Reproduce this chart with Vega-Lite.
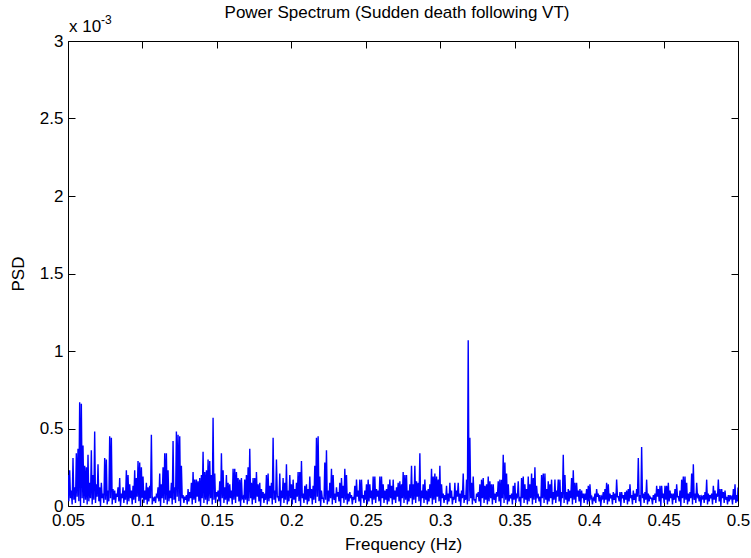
{
"$schema": "https://vega.github.io/schema/vega-lite/v6.json",
"description": "Power spectrum; psd values are in units of 1e-3 (axis multiplier x 10^-3).",
"autosize": "none",
"width": 670,
"height": 465,
"padding": {"left": 68, "top": 41, "right": 13, "bottom": 52},
"background": "white",
"title": {"text": "Power Spectrum (Sudden death following VT)", "font": "Liberation Sans", "fontSize": 17, "fontWeight": "normal", "color": "black", "anchor": "middle", "frame": "group", "offset": -8, "dx": -6},
"config": {
  "view": {"stroke": "black", "strokeWidth": 1},
  "axis": {"labelFont": "Liberation Sans", "titleFont": "Liberation Sans", "labelFontSize": 17, "titleFontSize": 17, "titleFontWeight": "normal", "labelColor": "black", "titleColor": "black", "tickColor": "black", "tickSize": -7, "tickWidth": 1, "domain": false, "grid": false}
},
"data": {"values": [
{"hz":0.05,"psd":0.20},{"hz":0.05056,"psd":0.03},{"hz":0.05112,"psd":0.23},{"hz":0.05168,"psd":0.05},{"hz":0.05224,"psd":0.10},{"hz":0.0528,"psd":0.01},{"hz":0.05336,"psd":0.31},{"hz":0.05392,"psd":0.04},{"hz":0.05448,"psd":0.12},{"hz":0.05504,"psd":0.02},{"hz":0.0556,"psd":0.34},{"hz":0.05616,"psd":0.06},{"hz":0.05672,"psd":0.37},{"hz":0.05728,"psd":0.03},{"hz":0.05784,"psd":0.67},{"hz":0.0584,"psd":0.0},{"hz":0.05896,"psd":0.66},{"hz":0.05952,"psd":0.05},{"hz":0.06008,"psd":0.39},{"hz":0.06064,"psd":0.02},
{"hz":0.0612,"psd":0.26},{"hz":0.06176,"psd":0.04},{"hz":0.06232,"psd":0.25},{"hz":0.06288,"psd":0.01},{"hz":0.06344,"psd":0.33},{"hz":0.064,"psd":0.03},{"hz":0.06456,"psd":0.15},{"hz":0.06512,"psd":0.05},{"hz":0.06568,"psd":0.36},{"hz":0.06624,"psd":0.01},{"hz":0.0668,"psd":0.20},{"hz":0.06736,"psd":0.04},{"hz":0.06792,"psd":0.48},{"hz":0.06848,"psd":0.02},{"hz":0.06904,"psd":0.14},{"hz":0.0696,"psd":0.06},{"hz":0.07016,"psd":0.27},{"hz":0.07072,"psd":0.03},{"hz":0.07128,"psd":0.12},{"hz":0.07184,"psd":0.0},
{"hz":0.0724,"psd":0.15},{"hz":0.07296,"psd":0.05},{"hz":0.07352,"psd":0.08},{"hz":0.07408,"psd":0.02},{"hz":0.07464,"psd":0.31},{"hz":0.0752,"psd":0.04},{"hz":0.07576,"psd":0.30},{"hz":0.07632,"psd":0.01},{"hz":0.07688,"psd":0.10},{"hz":0.07744,"psd":0.03},{"hz":0.078,"psd":0.45},{"hz":0.07856,"psd":0.05},{"hz":0.07912,"psd":0.44},{"hz":0.07968,"psd":0.01},{"hz":0.08024,"psd":0.11},{"hz":0.0808,"psd":0.04},{"hz":0.08136,"psd":0.10},{"hz":0.08192,"psd":0.02},{"hz":0.08248,"psd":0.08},{"hz":0.08304,"psd":0.06},
{"hz":0.0836,"psd":0.12},{"hz":0.08416,"psd":0.03},{"hz":0.08472,"psd":0.18},{"hz":0.08528,"psd":0.0},{"hz":0.08584,"psd":0.08},{"hz":0.0864,"psd":0.05},{"hz":0.08696,"psd":0.12},{"hz":0.08752,"psd":0.02},{"hz":0.08808,"psd":0.10},{"hz":0.08864,"psd":0.04},{"hz":0.0892,"psd":0.23},{"hz":0.08976,"psd":0.01},{"hz":0.09032,"psd":0.20},{"hz":0.09088,"psd":0.03},{"hz":0.09144,"psd":0.14},{"hz":0.092,"psd":0.05},{"hz":0.09256,"psd":0.10},{"hz":0.09312,"psd":0.01},{"hz":0.09368,"psd":0.13},{"hz":0.09424,"psd":0.04},
{"hz":0.0948,"psd":0.23},{"hz":0.09536,"psd":0.02},{"hz":0.09592,"psd":0.18},{"hz":0.09648,"psd":0.06},{"hz":0.09704,"psd":0.29},{"hz":0.0976,"psd":0.03},{"hz":0.09816,"psd":0.28},{"hz":0.09872,"psd":0.0},{"hz":0.09928,"psd":0.25},{"hz":0.09984,"psd":0.05},{"hz":0.1004,"psd":0.19},{"hz":0.10096,"psd":0.02},{"hz":0.10152,"psd":0.10},{"hz":0.10208,"psd":0.04},{"hz":0.10264,"psd":0.15},{"hz":0.1032,"psd":0.01},{"hz":0.10376,"psd":0.12},{"hz":0.10432,"psd":0.03},{"hz":0.10488,"psd":0.13},{"hz":0.10544,"psd":0.05},
{"hz":0.106,"psd":0.46},{"hz":0.10656,"psd":0.01},{"hz":0.10712,"psd":0.05},{"hz":0.10768,"psd":0.04},{"hz":0.10824,"psd":0.06},{"hz":0.1088,"psd":0.02},{"hz":0.10936,"psd":0.07},{"hz":0.10992,"psd":0.06},{"hz":0.11048,"psd":0.12},{"hz":0.11104,"psd":0.03},{"hz":0.1116,"psd":0.21},{"hz":0.11216,"psd":0.0},{"hz":0.11272,"psd":0.14},{"hz":0.11328,"psd":0.05},{"hz":0.11384,"psd":0.25},{"hz":0.1144,"psd":0.02},{"hz":0.11496,"psd":0.34},{"hz":0.11552,"psd":0.04},{"hz":0.11608,"psd":0.34},{"hz":0.11664,"psd":0.01},
{"hz":0.1172,"psd":0.23},{"hz":0.11776,"psd":0.03},{"hz":0.11832,"psd":0.10},{"hz":0.11888,"psd":0.05},{"hz":0.11944,"psd":0.15},{"hz":0.12,"psd":0.01},{"hz":0.12056,"psd":0.42},{"hz":0.12112,"psd":0.04},{"hz":0.12168,"psd":0.12},{"hz":0.12224,"psd":0.02},{"hz":0.1228,"psd":0.48},{"hz":0.12336,"psd":0.06},{"hz":0.12392,"psd":0.46},{"hz":0.12448,"psd":0.03},{"hz":0.12504,"psd":0.45},{"hz":0.1256,"psd":0.0},{"hz":0.12616,"psd":0.26},{"hz":0.12672,"psd":0.05},{"hz":0.12728,"psd":0.07},{"hz":0.12784,"psd":0.02},
{"hz":0.1284,"psd":0.06},{"hz":0.12896,"psd":0.04},{"hz":0.12952,"psd":0.07},{"hz":0.13008,"psd":0.01},{"hz":0.13064,"psd":0.11},{"hz":0.1312,"psd":0.03},{"hz":0.13176,"psd":0.09},{"hz":0.13232,"psd":0.05},{"hz":0.13288,"psd":0.15},{"hz":0.13344,"psd":0.01},{"hz":0.134,"psd":0.22},{"hz":0.13456,"psd":0.04},{"hz":0.13512,"psd":0.17},{"hz":0.13568,"psd":0.02},{"hz":0.13624,"psd":0.17},{"hz":0.1368,"psd":0.06},{"hz":0.13736,"psd":0.16},{"hz":0.13792,"psd":0.03},{"hz":0.13848,"psd":0.18},{"hz":0.13904,"psd":0.0},
{"hz":0.1396,"psd":0.20},{"hz":0.14016,"psd":0.05},{"hz":0.14072,"psd":0.35},{"hz":0.14128,"psd":0.02},{"hz":0.14184,"psd":0.22},{"hz":0.1424,"psd":0.04},{"hz":0.14296,"psd":0.23},{"hz":0.14352,"psd":0.01},{"hz":0.14408,"psd":0.30},{"hz":0.14464,"psd":0.03},{"hz":0.1452,"psd":0.29},{"hz":0.14576,"psd":0.05},{"hz":0.14632,"psd":0.20},{"hz":0.14688,"psd":0.01},{"hz":0.14744,"psd":0.57},{"hz":0.148,"psd":0.04},{"hz":0.14856,"psd":0.21},{"hz":0.14912,"psd":0.02},{"hz":0.14968,"psd":0.09},{"hz":0.15024,"psd":0.06},
{"hz":0.1508,"psd":0.10},{"hz":0.15136,"psd":0.03},{"hz":0.15192,"psd":0.16},{"hz":0.15248,"psd":0.0},{"hz":0.15304,"psd":0.34},{"hz":0.1536,"psd":0.05},{"hz":0.15416,"psd":0.23},{"hz":0.15472,"psd":0.02},{"hz":0.15528,"psd":0.12},{"hz":0.15584,"psd":0.04},{"hz":0.1564,"psd":0.20},{"hz":0.15696,"psd":0.01},{"hz":0.15752,"psd":0.15},{"hz":0.15808,"psd":0.03},{"hz":0.15864,"psd":0.14},{"hz":0.1592,"psd":0.05},{"hz":0.15976,"psd":0.10},{"hz":0.16032,"psd":0.01},{"hz":0.16088,"psd":0.24},{"hz":0.16144,"psd":0.04},
{"hz":0.162,"psd":0.24},{"hz":0.16256,"psd":0.02},{"hz":0.16312,"psd":0.22},{"hz":0.16368,"psd":0.06},{"hz":0.16424,"psd":0.18},{"hz":0.1648,"psd":0.03},{"hz":0.16536,"psd":0.17},{"hz":0.16592,"psd":0.0},{"hz":0.16648,"psd":0.18},{"hz":0.16704,"psd":0.05},{"hz":0.1676,"psd":0.06},{"hz":0.16816,"psd":0.02},{"hz":0.16872,"psd":0.17},{"hz":0.16928,"psd":0.04},{"hz":0.16984,"psd":0.20},{"hz":0.1704,"psd":0.01},{"hz":0.17096,"psd":0.25},{"hz":0.17152,"psd":0.03},{"hz":0.17208,"psd":0.37},{"hz":0.17264,"psd":0.05},
{"hz":0.1732,"psd":0.15},{"hz":0.17376,"psd":0.01},{"hz":0.17432,"psd":0.18},{"hz":0.17488,"psd":0.04},{"hz":0.17544,"psd":0.18},{"hz":0.176,"psd":0.02},{"hz":0.17656,"psd":0.22},{"hz":0.17712,"psd":0.06},{"hz":0.17768,"psd":0.14},{"hz":0.17824,"psd":0.03},{"hz":0.1788,"psd":0.15},{"hz":0.17936,"psd":0.0},{"hz":0.17992,"psd":0.11},{"hz":0.18048,"psd":0.05},{"hz":0.18104,"psd":0.09},{"hz":0.1816,"psd":0.02},{"hz":0.18216,"psd":0.08},{"hz":0.18272,"psd":0.04},{"hz":0.18328,"psd":0.20},{"hz":0.18384,"psd":0.01},
{"hz":0.1844,"psd":0.21},{"hz":0.18496,"psd":0.03},{"hz":0.18552,"psd":0.13},{"hz":0.18608,"psd":0.05},{"hz":0.18664,"psd":0.15},{"hz":0.1872,"psd":0.01},{"hz":0.18776,"psd":0.44},{"hz":0.18832,"psd":0.04},{"hz":0.18888,"psd":0.10},{"hz":0.18944,"psd":0.02},{"hz":0.19,"psd":0.30},{"hz":0.19056,"psd":0.06},{"hz":0.19112,"psd":0.06},{"hz":0.19168,"psd":0.03},{"hz":0.19224,"psd":0.21},{"hz":0.1928,"psd":0.0},{"hz":0.19336,"psd":0.10},{"hz":0.19392,"psd":0.05},{"hz":0.19448,"psd":0.18},{"hz":0.19504,"psd":0.02},
{"hz":0.1956,"psd":0.15},{"hz":0.19616,"psd":0.04},{"hz":0.19672,"psd":0.27},{"hz":0.19728,"psd":0.01},{"hz":0.19784,"psd":0.10},{"hz":0.1984,"psd":0.03},{"hz":0.19896,"psd":0.20},{"hz":0.19952,"psd":0.05},{"hz":0.20008,"psd":0.14},{"hz":0.20064,"psd":0.01},{"hz":0.2012,"psd":0.17},{"hz":0.20176,"psd":0.04},{"hz":0.20232,"psd":0.11},{"hz":0.20288,"psd":0.02},{"hz":0.20344,"psd":0.15},{"hz":0.204,"psd":0.06},{"hz":0.20456,"psd":0.22},{"hz":0.20512,"psd":0.03},{"hz":0.20568,"psd":0.22},{"hz":0.20624,"psd":0.0},
{"hz":0.2068,"psd":0.29},{"hz":0.20736,"psd":0.05},{"hz":0.20792,"psd":0.08},{"hz":0.20848,"psd":0.02},{"hz":0.20904,"psd":0.13},{"hz":0.2096,"psd":0.04},{"hz":0.21016,"psd":0.14},{"hz":0.21072,"psd":0.01},{"hz":0.21128,"psd":0.11},{"hz":0.21184,"psd":0.03},{"hz":0.2124,"psd":0.19},{"hz":0.21296,"psd":0.05},{"hz":0.21352,"psd":0.11},{"hz":0.21408,"psd":0.01},{"hz":0.21464,"psd":0.13},{"hz":0.2152,"psd":0.04},{"hz":0.21576,"psd":0.26},{"hz":0.21632,"psd":0.02},{"hz":0.21688,"psd":0.44},{"hz":0.21744,"psd":0.06},
{"hz":0.218,"psd":0.45},{"hz":0.21856,"psd":0.03},{"hz":0.21912,"psd":0.19},{"hz":0.21968,"psd":0.0},{"hz":0.22024,"psd":0.10},{"hz":0.2208,"psd":0.05},{"hz":0.22136,"psd":0.05},{"hz":0.22192,"psd":0.02},{"hz":0.22248,"psd":0.28},{"hz":0.22304,"psd":0.04},{"hz":0.2236,"psd":0.36},{"hz":0.22416,"psd":0.01},{"hz":0.22472,"psd":0.10},{"hz":0.22528,"psd":0.03},{"hz":0.22584,"psd":0.15},{"hz":0.2264,"psd":0.05},{"hz":0.22696,"psd":0.24},{"hz":0.22752,"psd":0.01},{"hz":0.22808,"psd":0.20},{"hz":0.22864,"psd":0.04},
{"hz":0.2292,"psd":0.08},{"hz":0.22976,"psd":0.02},{"hz":0.23032,"psd":0.12},{"hz":0.23088,"psd":0.06},{"hz":0.23144,"psd":0.09},{"hz":0.232,"psd":0.03},{"hz":0.23256,"psd":0.15},{"hz":0.23312,"psd":0.0},{"hz":0.23368,"psd":0.18},{"hz":0.23424,"psd":0.05},{"hz":0.2348,"psd":0.13},{"hz":0.23536,"psd":0.02},{"hz":0.23592,"psd":0.24},{"hz":0.23648,"psd":0.04},{"hz":0.23704,"psd":0.20},{"hz":0.2376,"psd":0.01},{"hz":0.23816,"psd":0.08},{"hz":0.23872,"psd":0.03},{"hz":0.23928,"psd":0.09},{"hz":0.23984,"psd":0.05},
{"hz":0.2404,"psd":0.07},{"hz":0.24096,"psd":0.01},{"hz":0.24152,"psd":0.06},{"hz":0.24208,"psd":0.04},{"hz":0.24264,"psd":0.13},{"hz":0.2432,"psd":0.02},{"hz":0.24376,"psd":0.17},{"hz":0.24432,"psd":0.06},{"hz":0.24488,"psd":0.10},{"hz":0.24544,"psd":0.03},{"hz":0.246,"psd":0.17},{"hz":0.24656,"psd":0.0},{"hz":0.24712,"psd":0.17},{"hz":0.24768,"psd":0.05},{"hz":0.24824,"psd":0.07},{"hz":0.2488,"psd":0.02},{"hz":0.24936,"psd":0.10},{"hz":0.24992,"psd":0.04},{"hz":0.25048,"psd":0.14},{"hz":0.25104,"psd":0.01},
{"hz":0.2516,"psd":0.17},{"hz":0.25216,"psd":0.03},{"hz":0.25272,"psd":0.14},{"hz":0.25328,"psd":0.05},{"hz":0.25384,"psd":0.10},{"hz":0.2544,"psd":0.01},{"hz":0.25496,"psd":0.19},{"hz":0.25552,"psd":0.04},{"hz":0.25608,"psd":0.19},{"hz":0.25664,"psd":0.02},{"hz":0.2572,"psd":0.11},{"hz":0.25776,"psd":0.06},{"hz":0.25832,"psd":0.10},{"hz":0.25888,"psd":0.03},{"hz":0.25944,"psd":0.19},{"hz":0.26,"psd":0.0},{"hz":0.26056,"psd":0.19},{"hz":0.26112,"psd":0.05},{"hz":0.26168,"psd":0.14},{"hz":0.26224,"psd":0.02},
{"hz":0.2628,"psd":0.10},{"hz":0.26336,"psd":0.04},{"hz":0.26392,"psd":0.11},{"hz":0.26448,"psd":0.01},{"hz":0.26504,"psd":0.14},{"hz":0.2656,"psd":0.03},{"hz":0.26616,"psd":0.17},{"hz":0.26672,"psd":0.05},{"hz":0.26728,"psd":0.13},{"hz":0.26784,"psd":0.01},{"hz":0.2684,"psd":0.17},{"hz":0.26896,"psd":0.04},{"hz":0.26952,"psd":0.10},{"hz":0.27008,"psd":0.02},{"hz":0.27064,"psd":0.12},{"hz":0.2712,"psd":0.06},{"hz":0.27176,"psd":0.15},{"hz":0.27232,"psd":0.03},{"hz":0.27288,"psd":0.16},{"hz":0.27344,"psd":0.0},
{"hz":0.274,"psd":0.14},{"hz":0.27456,"psd":0.05},{"hz":0.27512,"psd":0.22},{"hz":0.27568,"psd":0.02},{"hz":0.27624,"psd":0.20},{"hz":0.2768,"psd":0.04},{"hz":0.27736,"psd":0.20},{"hz":0.27792,"psd":0.01},{"hz":0.27848,"psd":0.10},{"hz":0.27904,"psd":0.03},{"hz":0.2796,"psd":0.14},{"hz":0.28016,"psd":0.05},{"hz":0.28072,"psd":0.26},{"hz":0.28128,"psd":0.01},{"hz":0.28184,"psd":0.14},{"hz":0.2824,"psd":0.04},{"hz":0.28296,"psd":0.26},{"hz":0.28352,"psd":0.02},{"hz":0.28408,"psd":0.16},{"hz":0.28464,"psd":0.06},
{"hz":0.2852,"psd":0.15},{"hz":0.28576,"psd":0.03},{"hz":0.28632,"psd":0.34},{"hz":0.28688,"psd":0.0},{"hz":0.28744,"psd":0.10},{"hz":0.288,"psd":0.05},{"hz":0.28856,"psd":0.14},{"hz":0.28912,"psd":0.02},{"hz":0.28968,"psd":0.17},{"hz":0.29024,"psd":0.04},{"hz":0.2908,"psd":0.10},{"hz":0.29136,"psd":0.01},{"hz":0.29192,"psd":0.11},{"hz":0.29248,"psd":0.03},{"hz":0.29304,"psd":0.14},{"hz":0.2936,"psd":0.05},{"hz":0.29416,"psd":0.24},{"hz":0.29472,"psd":0.01},{"hz":0.29528,"psd":0.19},{"hz":0.29584,"psd":0.04},
{"hz":0.2964,"psd":0.21},{"hz":0.29696,"psd":0.02},{"hz":0.29752,"psd":0.19},{"hz":0.29808,"psd":0.06},{"hz":0.29864,"psd":0.17},{"hz":0.2992,"psd":0.03},{"hz":0.29976,"psd":0.26},{"hz":0.30032,"psd":0.0},{"hz":0.30088,"psd":0.14},{"hz":0.30144,"psd":0.05},{"hz":0.302,"psd":0.08},{"hz":0.30256,"psd":0.02},{"hz":0.30312,"psd":0.07},{"hz":0.30368,"psd":0.04},{"hz":0.30424,"psd":0.13},{"hz":0.3048,"psd":0.01},{"hz":0.30536,"psd":0.08},{"hz":0.30592,"psd":0.03},{"hz":0.30648,"psd":0.15},{"hz":0.30704,"psd":0.05},
{"hz":0.3076,"psd":0.10},{"hz":0.30816,"psd":0.01},{"hz":0.30872,"psd":0.06},{"hz":0.30928,"psd":0.04},{"hz":0.30984,"psd":0.15},{"hz":0.3104,"psd":0.02},{"hz":0.31096,"psd":0.10},{"hz":0.31152,"psd":0.06},{"hz":0.31208,"psd":0.15},{"hz":0.31264,"psd":0.03},{"hz":0.3132,"psd":0.08},{"hz":0.31376,"psd":0.0},{"hz":0.31432,"psd":0.10},{"hz":0.31488,"psd":0.05},{"hz":0.31544,"psd":0.21},{"hz":0.316,"psd":0.02},{"hz":0.31656,"psd":0.07},{"hz":0.31712,"psd":0.04},{"hz":0.31768,"psd":0.17},{"hz":0.31824,"psd":0.01},
{"hz":0.3188,"psd":1.07},{"hz":0.31936,"psd":0.03},{"hz":0.31992,"psd":0.44},{"hz":0.32048,"psd":0.05},{"hz":0.32104,"psd":0.15},{"hz":0.3216,"psd":0.01},{"hz":0.32216,"psd":0.19},{"hz":0.32272,"psd":0.04},{"hz":0.32328,"psd":0.04},{"hz":0.32384,"psd":0.02},{"hz":0.3244,"psd":0.08},{"hz":0.32496,"psd":0.06},{"hz":0.32552,"psd":0.09},{"hz":0.32608,"psd":0.03},{"hz":0.32664,"psd":0.14},{"hz":0.3272,"psd":0.0},{"hz":0.32776,"psd":0.17},{"hz":0.32832,"psd":0.05},{"hz":0.32888,"psd":0.18},{"hz":0.32944,"psd":0.02},
{"hz":0.33,"psd":0.13},{"hz":0.33056,"psd":0.04},{"hz":0.33112,"psd":0.14},{"hz":0.33168,"psd":0.01},{"hz":0.33224,"psd":0.19},{"hz":0.3328,"psd":0.03},{"hz":0.33336,"psd":0.16},{"hz":0.33392,"psd":0.05},{"hz":0.33448,"psd":0.14},{"hz":0.33504,"psd":0.01},{"hz":0.3356,"psd":0.14},{"hz":0.33616,"psd":0.04},{"hz":0.33672,"psd":0.08},{"hz":0.33728,"psd":0.02},{"hz":0.33784,"psd":0.09},{"hz":0.3384,"psd":0.06},{"hz":0.33896,"psd":0.16},{"hz":0.33952,"psd":0.03},{"hz":0.34008,"psd":0.17},{"hz":0.34064,"psd":0.0},
{"hz":0.3412,"psd":0.17},{"hz":0.34176,"psd":0.05},{"hz":0.34232,"psd":0.33},{"hz":0.34288,"psd":0.02},{"hz":0.34344,"psd":0.28},{"hz":0.344,"psd":0.04},{"hz":0.34456,"psd":0.21},{"hz":0.34512,"psd":0.01},{"hz":0.34568,"psd":0.14},{"hz":0.34624,"psd":0.03},{"hz":0.3468,"psd":0.07},{"hz":0.34736,"psd":0.05},{"hz":0.34792,"psd":0.08},{"hz":0.34848,"psd":0.01},{"hz":0.34904,"psd":0.13},{"hz":0.3496,"psd":0.04},{"hz":0.35016,"psd":0.15},{"hz":0.35072,"psd":0.02},{"hz":0.35128,"psd":0.07},{"hz":0.35184,"psd":0.06},
{"hz":0.3524,"psd":0.16},{"hz":0.35296,"psd":0.03},{"hz":0.35352,"psd":0.06},{"hz":0.35408,"psd":0.0},{"hz":0.35464,"psd":0.18},{"hz":0.3552,"psd":0.05},{"hz":0.35576,"psd":0.19},{"hz":0.35632,"psd":0.02},{"hz":0.35688,"psd":0.14},{"hz":0.35744,"psd":0.04},{"hz":0.358,"psd":0.11},{"hz":0.35856,"psd":0.01},{"hz":0.35912,"psd":0.19},{"hz":0.35968,"psd":0.03},{"hz":0.36024,"psd":0.14},{"hz":0.3608,"psd":0.05},{"hz":0.36136,"psd":0.21},{"hz":0.36192,"psd":0.01},{"hz":0.36248,"psd":0.18},{"hz":0.36304,"psd":0.04},
{"hz":0.3636,"psd":0.25},{"hz":0.36416,"psd":0.02},{"hz":0.36472,"psd":0.13},{"hz":0.36528,"psd":0.06},{"hz":0.36584,"psd":0.07},{"hz":0.3664,"psd":0.03},{"hz":0.36696,"psd":0.06},{"hz":0.36752,"psd":0.0},{"hz":0.36808,"psd":0.20},{"hz":0.36864,"psd":0.05},{"hz":0.3692,"psd":0.21},{"hz":0.36976,"psd":0.02},{"hz":0.37032,"psd":0.21},{"hz":0.37088,"psd":0.04},{"hz":0.37144,"psd":0.11},{"hz":0.372,"psd":0.01},{"hz":0.37256,"psd":0.16},{"hz":0.37312,"psd":0.03},{"hz":0.37368,"psd":0.14},{"hz":0.37424,"psd":0.05},
{"hz":0.3748,"psd":0.17},{"hz":0.37536,"psd":0.01},{"hz":0.37592,"psd":0.09},{"hz":0.37648,"psd":0.04},{"hz":0.37704,"psd":0.17},{"hz":0.3776,"psd":0.02},{"hz":0.37816,"psd":0.10},{"hz":0.37872,"psd":0.06},{"hz":0.37928,"psd":0.17},{"hz":0.37984,"psd":0.03},{"hz":0.3804,"psd":0.17},{"hz":0.38096,"psd":0.0},{"hz":0.38152,"psd":0.09},{"hz":0.38208,"psd":0.05},{"hz":0.38264,"psd":0.33},{"hz":0.3832,"psd":0.02},{"hz":0.38376,"psd":0.20},{"hz":0.38432,"psd":0.04},{"hz":0.38488,"psd":0.09},{"hz":0.38544,"psd":0.01},
{"hz":0.386,"psd":0.11},{"hz":0.38656,"psd":0.03},{"hz":0.38712,"psd":0.10},{"hz":0.38768,"psd":0.05},{"hz":0.38824,"psd":0.18},{"hz":0.3888,"psd":0.01},{"hz":0.38936,"psd":0.23},{"hz":0.38992,"psd":0.04},{"hz":0.39048,"psd":0.15},{"hz":0.39104,"psd":0.02},{"hz":0.3916,"psd":0.15},{"hz":0.39216,"psd":0.06},{"hz":0.39272,"psd":0.10},{"hz":0.39328,"psd":0.03},{"hz":0.39384,"psd":0.11},{"hz":0.3944,"psd":0.0},{"hz":0.39496,"psd":0.10},{"hz":0.39552,"psd":0.05},{"hz":0.39608,"psd":0.08},{"hz":0.39664,"psd":0.02},
{"hz":0.3972,"psd":0.08},{"hz":0.39776,"psd":0.04},{"hz":0.39832,"psd":0.11},{"hz":0.39888,"psd":0.01},{"hz":0.39944,"psd":0.13},{"hz":0.4,"psd":0.03},{"hz":0.40056,"psd":0.14},{"hz":0.40112,"psd":0.05},{"hz":0.40168,"psd":0.06},{"hz":0.40224,"psd":0.01},{"hz":0.4028,"psd":0.05},{"hz":0.40336,"psd":0.04},{"hz":0.40392,"psd":0.08},{"hz":0.40448,"psd":0.02},{"hz":0.40504,"psd":0.11},{"hz":0.4056,"psd":0.06},{"hz":0.40616,"psd":0.08},{"hz":0.40672,"psd":0.03},{"hz":0.40728,"psd":0.07},{"hz":0.40784,"psd":0.0},
{"hz":0.4084,"psd":0.06},{"hz":0.40896,"psd":0.05},{"hz":0.40952,"psd":0.09},{"hz":0.41008,"psd":0.02},{"hz":0.41064,"psd":0.11},{"hz":0.4112,"psd":0.04},{"hz":0.41176,"psd":0.15},{"hz":0.41232,"psd":0.01},{"hz":0.41288,"psd":0.14},{"hz":0.41344,"psd":0.03},{"hz":0.414,"psd":0.08},{"hz":0.41456,"psd":0.05},{"hz":0.41512,"psd":0.07},{"hz":0.41568,"psd":0.01},{"hz":0.41624,"psd":0.09},{"hz":0.4168,"psd":0.04},{"hz":0.41736,"psd":0.08},{"hz":0.41792,"psd":0.02},{"hz":0.41848,"psd":0.17},{"hz":0.41904,"psd":0.06},
{"hz":0.4196,"psd":0.06},{"hz":0.42016,"psd":0.03},{"hz":0.42072,"psd":0.09},{"hz":0.42128,"psd":0.0},{"hz":0.42184,"psd":0.09},{"hz":0.4224,"psd":0.05},{"hz":0.42296,"psd":0.07},{"hz":0.42352,"psd":0.02},{"hz":0.42408,"psd":0.09},{"hz":0.42464,"psd":0.04},{"hz":0.4252,"psd":0.10},{"hz":0.42576,"psd":0.01},{"hz":0.42632,"psd":0.11},{"hz":0.42688,"psd":0.03},{"hz":0.42744,"psd":0.14},{"hz":0.428,"psd":0.05},{"hz":0.42856,"psd":0.07},{"hz":0.42912,"psd":0.01},{"hz":0.42968,"psd":0.10},{"hz":0.43024,"psd":0.04},
{"hz":0.4308,"psd":0.08},{"hz":0.43136,"psd":0.02},{"hz":0.43192,"psd":0.11},{"hz":0.43248,"psd":0.06},{"hz":0.43304,"psd":0.31},{"hz":0.4336,"psd":0.03},{"hz":0.43416,"psd":0.07},{"hz":0.43472,"psd":0.0},{"hz":0.43528,"psd":0.38},{"hz":0.43584,"psd":0.05},{"hz":0.4364,"psd":0.08},{"hz":0.43696,"psd":0.02},{"hz":0.43752,"psd":0.09},{"hz":0.43808,"psd":0.04},{"hz":0.43864,"psd":0.17},{"hz":0.4392,"psd":0.01},{"hz":0.43976,"psd":0.08},{"hz":0.44032,"psd":0.03},{"hz":0.44088,"psd":0.06},{"hz":0.44144,"psd":0.05},
{"hz":0.442,"psd":0.05},{"hz":0.44256,"psd":0.01},{"hz":0.44312,"psd":0.07},{"hz":0.44368,"psd":0.04},{"hz":0.44424,"psd":0.08},{"hz":0.4448,"psd":0.02},{"hz":0.44536,"psd":0.13},{"hz":0.44592,"psd":0.06},{"hz":0.44648,"psd":0.11},{"hz":0.44704,"psd":0.03},{"hz":0.4476,"psd":0.13},{"hz":0.44816,"psd":0.0},{"hz":0.44872,"psd":0.13},{"hz":0.44928,"psd":0.05},{"hz":0.44984,"psd":0.08},{"hz":0.4504,"psd":0.02},{"hz":0.45096,"psd":0.13},{"hz":0.45152,"psd":0.04},{"hz":0.45208,"psd":0.13},{"hz":0.45264,"psd":0.01},
{"hz":0.4532,"psd":0.15},{"hz":0.45376,"psd":0.03},{"hz":0.45432,"psd":0.10},{"hz":0.45488,"psd":0.05},{"hz":0.45544,"psd":0.08},{"hz":0.456,"psd":0.01},{"hz":0.45656,"psd":0.08},{"hz":0.45712,"psd":0.04},{"hz":0.45768,"psd":0.11},{"hz":0.45824,"psd":0.02},{"hz":0.4588,"psd":0.14},{"hz":0.45936,"psd":0.06},{"hz":0.45992,"psd":0.06},{"hz":0.46048,"psd":0.03},{"hz":0.46104,"psd":0.10},{"hz":0.4616,"psd":0.0},{"hz":0.46216,"psd":0.17},{"hz":0.46272,"psd":0.05},{"hz":0.46328,"psd":0.19},{"hz":0.46384,"psd":0.02},
{"hz":0.4644,"psd":0.19},{"hz":0.46496,"psd":0.04},{"hz":0.46552,"psd":0.15},{"hz":0.46608,"psd":0.01},{"hz":0.46664,"psd":0.08},{"hz":0.4672,"psd":0.03},{"hz":0.46776,"psd":0.09},{"hz":0.46832,"psd":0.05},{"hz":0.46888,"psd":0.21},{"hz":0.46944,"psd":0.01},{"hz":0.47,"psd":0.27},{"hz":0.47056,"psd":0.04},{"hz":0.47112,"psd":0.08},{"hz":0.47168,"psd":0.02},{"hz":0.47224,"psd":0.15},{"hz":0.4728,"psd":0.06},{"hz":0.47336,"psd":0.07},{"hz":0.47392,"psd":0.03},{"hz":0.47448,"psd":0.07},{"hz":0.47504,"psd":0.0},
{"hz":0.4756,"psd":0.06},{"hz":0.47616,"psd":0.05},{"hz":0.47672,"psd":0.07},{"hz":0.47728,"psd":0.02},{"hz":0.47784,"psd":0.09},{"hz":0.4784,"psd":0.04},{"hz":0.47896,"psd":0.17},{"hz":0.47952,"psd":0.01},{"hz":0.48008,"psd":0.08},{"hz":0.48064,"psd":0.03},{"hz":0.4812,"psd":0.07},{"hz":0.48176,"psd":0.05},{"hz":0.48232,"psd":0.08},{"hz":0.48288,"psd":0.01},{"hz":0.48344,"psd":0.13},{"hz":0.484,"psd":0.04},{"hz":0.48456,"psd":0.10},{"hz":0.48512,"psd":0.02},{"hz":0.48568,"psd":0.08},{"hz":0.48624,"psd":0.06},
{"hz":0.4868,"psd":0.17},{"hz":0.48736,"psd":0.03},{"hz":0.48792,"psd":0.11},{"hz":0.48848,"psd":0.0},{"hz":0.48904,"psd":0.11},{"hz":0.4896,"psd":0.05},{"hz":0.49016,"psd":0.09},{"hz":0.49072,"psd":0.02},{"hz":0.49128,"psd":0.10},{"hz":0.49184,"psd":0.04},{"hz":0.4924,"psd":0.06},{"hz":0.49296,"psd":0.01},{"hz":0.49352,"psd":0.07},{"hz":0.49408,"psd":0.03},{"hz":0.49464,"psd":0.07},{"hz":0.4952,"psd":0.05},{"hz":0.49576,"psd":0.06},{"hz":0.49632,"psd":0.01},{"hz":0.49688,"psd":0.11},{"hz":0.49744,"psd":0.04},
{"hz":0.498,"psd":0.14},{"hz":0.49856,"psd":0.02},{"hz":0.49912,"psd":0.07},{"hz":0.49968,"psd":0.03},{"hz":0.5,"psd":0.12}
]},
"layer": [
  {
    "mark": {"type": "line", "color": "#0000ff", "strokeWidth": 1.4, "clip": true},
    "encoding": {
      "x": {"field": "hz", "type": "quantitative", "scale": {"domain": [0.05, 0.5], "nice": false, "zero": false},
        "axis": {"orient": "bottom", "values": [0.05, 0.1, 0.15, 0.2, 0.25, 0.3, 0.35, 0.4, 0.45, 0.5], "format": "~g", "labelPadding": 13, "title": "Frequency (Hz)", "titlePadding": 8, "labelFlush": false}},
      "y": {"field": "psd", "type": "quantitative", "scale": {"domain": [0, 3], "nice": false, "zero": true},
        "axis": {"orient": "left", "values": [0, 0.5, 1, 1.5, 2, 2.5, 3], "format": "~g", "labelPadding": 12, "title": "PSD", "titlePadding": 12, "labelFlush": false}}
    }
  },
  {
    "data": {"values": [{"hz": 0.05, "psd": 0}]},
    "mark": {"type": "point", "opacity": 0},
    "encoding": {
      "x": {"field": "hz", "type": "quantitative", "axis": {"orient": "top", "values": [0.05, 0.1, 0.15, 0.2, 0.25, 0.3, 0.35, 0.4, 0.45, 0.5], "labels": false, "title": null}},
      "y": {"field": "psd", "type": "quantitative", "axis": {"orient": "right", "values": [0, 0.5, 1, 1.5, 2, 2.5, 3], "labels": false, "title": null}}
    }
  },
  {
    "data": {"values": [{"label": "x 10", "hz": 0.05, "psd": 3}]},
    "mark": {"type": "text", "align": "left", "baseline": "alphabetic", "dx": 1, "dy": -9, "font": "Liberation Sans", "fontSize": 17, "color": "black"},
    "encoding": {
      "x": {"field": "hz", "type": "quantitative", "axis": null},
      "y": {"field": "psd", "type": "quantitative", "axis": null},
      "text": {"field": "label"}
    }
  },
  {
    "data": {"values": [{"label": "-3", "hz": 0.05, "psd": 3}]},
    "mark": {"type": "text", "align": "left", "baseline": "alphabetic", "dx": 33, "dy": -17, "font": "Liberation Sans", "fontSize": 12, "color": "black"},
    "encoding": {
      "x": {"field": "hz", "type": "quantitative", "axis": null},
      "y": {"field": "psd", "type": "quantitative", "axis": null},
      "text": {"field": "label"}
    }
  }
],
"resolve": {"axis": {"x": "independent", "y": "independent"}}
}
